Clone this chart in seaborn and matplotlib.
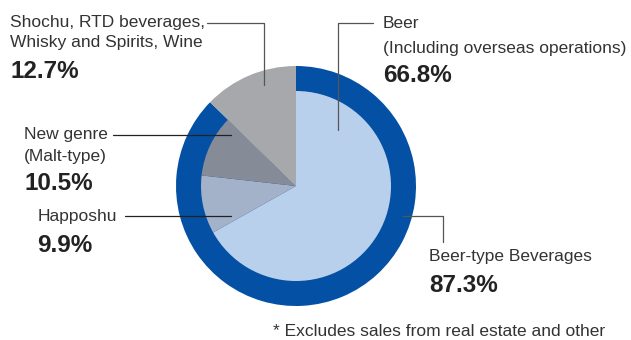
import matplotlib
matplotlib.use("Agg")
import matplotlib.pyplot as plt
import seaborn as sns

# ---- data ----
inner_labels = ["Beer", "Happoshu", "New genre", "Shochu etc."]
inner_values = [66.8, 9.9, 10.5, 12.7]
outer_labels = ["Beer-type Beverages", "Other"]
outer_values = [87.3, 12.7]
shochu_lines = ["Shochu, RTD beverages,", "Whisky and Spirits, Wine"]
newgenre_lines = ["New genre", "(Malt-type)"]
happoshu_lines = ["Happoshu"]
beer_lines = ["Beer", "(Including overseas operations)"]
beertype_lines = ["Beer-type Beverages"]
pct_texts = {"shochu": "12.7%", "newgenre": "10.5%", "happoshu": "9.9%",
             "beer": "66.8%", "beertype": "87.3%"}
footnote = "* Excludes sales from real estate and other"

sns.set_theme(style="white")
plt.rcParams["font.family"] = ["Liberation Sans", "DejaVu Sans"]

W, H = 631, 340
fig = plt.figure(figsize=(W / 100, H / 100), dpi=100)
ax = fig.add_axes([0, 0, 1, 1])

def Y(y):
    return H - y

cx, cy = 296, Y(186)
R_out, R_in = 120, 95
blue = "#0450A4"
gray = "#A7A8AC"
inner_colors = ["#B9D0EC", "#A3B1C9", "#858C98", gray]

ax.pie(outer_values, colors=[blue, gray], radius=R_out, center=(cx, cy),
       startangle=90, counterclock=False, normalize=True,
       wedgeprops=dict(linewidth=0))
ax.pie(inner_values, colors=inner_colors, radius=R_in, center=(cx, cy),
       startangle=90, counterclock=False, normalize=True,
       wedgeprops=dict(linewidth=0))
ax.set_xlim(0, W)
ax.set_ylim(0, H)
ax.set_aspect("equal")
ax.axis("off")

txt = "#333333"
fs, fsb = 12.5, 17.5
def label(x, y, s, bold=False):
    ax.text(x, Y(y), s, fontsize=fsb if bold else fs, color="#222222" if bold else txt,
            fontweight="bold" if bold else "normal", ha="left", va="center")

# Shochu
label(10, 22, shochu_lines[0])
label(10, 43, shochu_lines[1])
label(11, 72, pct_texts["shochu"], bold=True)
ax.plot([207, 264, 264], [Y(22.5), Y(22.5), Y(85)], color="#555555", lw=0.9)
# New genre
label(24, 134, newgenre_lines[0])
label(24, 157, newgenre_lines[1])
label(25, 184, pct_texts["newgenre"], bold=True)
ax.plot([113, 231], [Y(135), Y(135)], color="#222222", lw=0.9)
# Happoshu
label(38, 216, happoshu_lines[0])
label(37, 245, pct_texts["happoshu"], bold=True)
ax.plot([125, 231], [Y(216), Y(216)], color="#222222", lw=0.9)
# Beer
label(383, 23, beer_lines[0])
label(383, 49, beer_lines[1])
label(383, 75, pct_texts["beer"], bold=True)
ax.plot([373, 338, 338], [Y(22.5), Y(22.5), Y(130)], color="#555555", lw=0.9)
# Beer-type
label(429, 257, beertype_lines[0])
label(429, 285, pct_texts["beertype"], bold=True)
ax.plot([403, 443, 443], [Y(216), Y(216), Y(242)], color="#555555", lw=0.9)
# footnote (kept fully inside the canvas)
ax.text(273, Y(324), footnote, fontsize=fs, color=txt, ha="left", va="top")

fig.savefig("out.png", dpi=100)
